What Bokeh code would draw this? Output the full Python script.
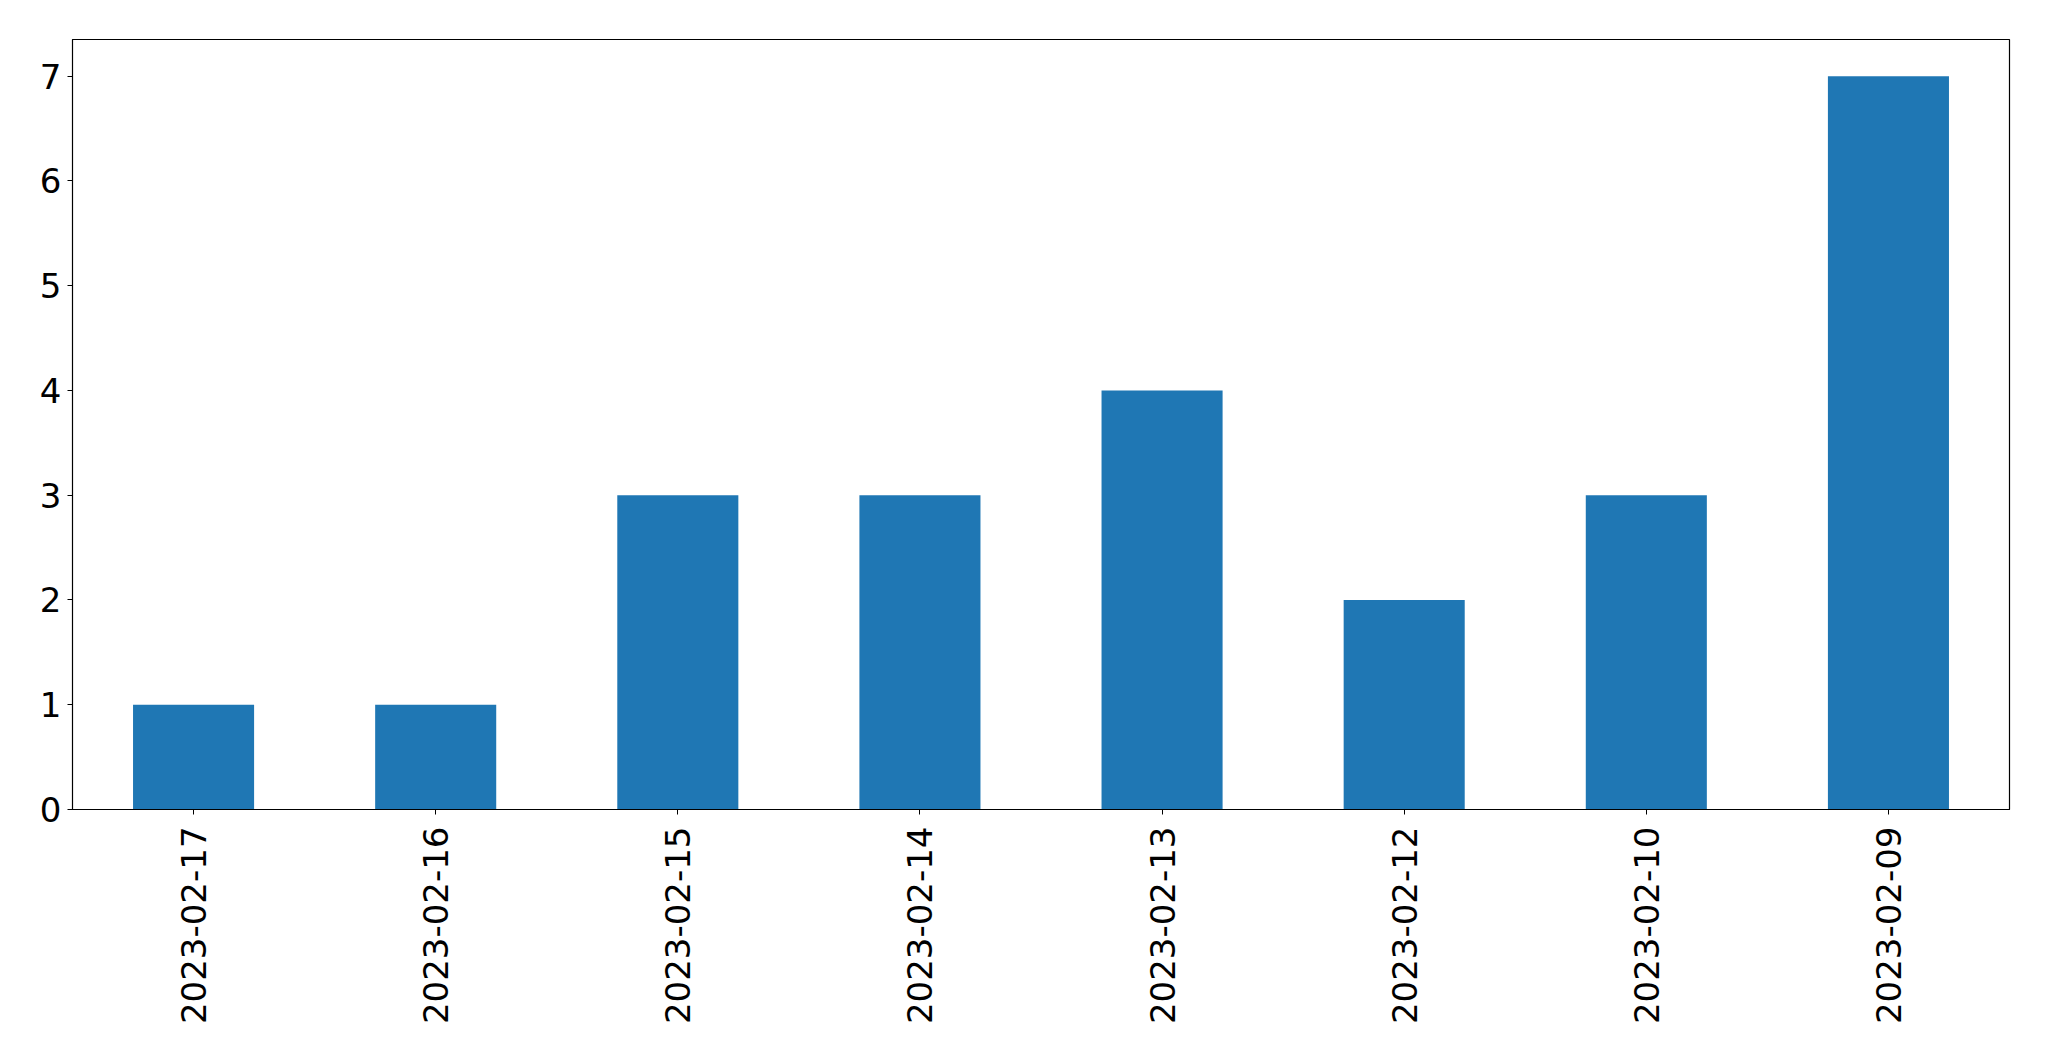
import math
from bokeh.plotting import figure
from bokeh.models import FactorRange, Range1d, FixedTicker, ColumnDataSource
from bokeh.embed import file_html
from bokeh.resources import INLINE

dates = ["2023-02-17", "2023-02-16", "2023-02-15", "2023-02-14",
         "2023-02-13", "2023-02-12", "2023-02-10", "2023-02-09"]
counts = [1, 1, 3, 3, 4, 2, 3, 7]
y_ticks = [0, 1, 2, 3, 4, 5, 6, 7]

source = ColumnDataSource(dict(date=dates, count=counts))

p = figure(width=2041, height=1053,
           x_range=FactorRange(factors=dates, range_padding=0),
           y_range=Range1d(0, 7.35),
           output_backend="svg", toolbar_location=None,
           min_border_left=72, min_border_top=39, min_border_right=32, min_border_bottom=244)

p.vbar(x="date", top="count", width=0.5, source=source,
       fill_color="#1f77b4", line_color=None)

p.xgrid.visible = False
p.ygrid.visible = False
p.outline_line_color = "black"
p.outline_line_width = 1.2

for ax in (p.xaxis[0], p.yaxis[0]):
    ax.major_label_text_font = "DejaVu Sans"
    ax.major_label_text_font_size = "34px"
    ax.major_label_text_color = "black"
    ax.axis_line_color = "black"
    ax.major_tick_line_color = "black"
    ax.major_tick_out = 5
    ax.major_tick_in = 0
    ax.minor_tick_line_color = None

p.yaxis[0].ticker = FixedTicker(ticks=y_ticks)
p.yaxis[0].major_label_standoff = 6
p.xaxis[0].major_label_orientation = math.pi / 2
p.xaxis[0].major_label_standoff = 12

open("out.html", "w").write(file_html(p, INLINE))
